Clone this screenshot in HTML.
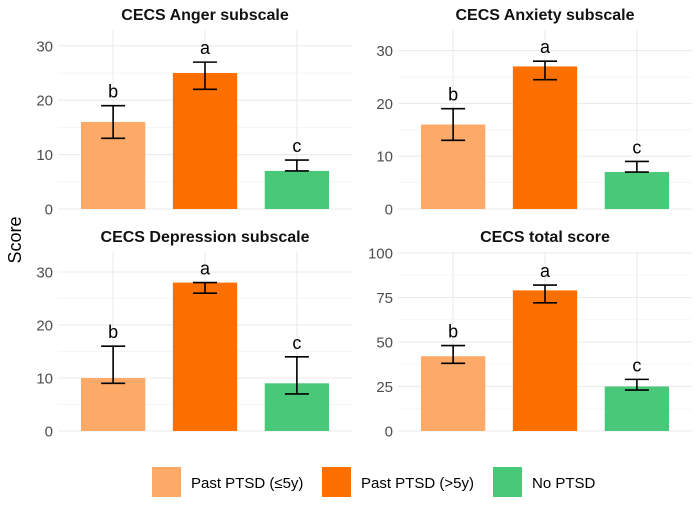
<!DOCTYPE html>
<html><head><meta charset="utf-8"><style>
body{margin:0;background:#fff;font-family:"Liberation Sans",Arial,sans-serif}
svg text{font-family:"Liberation Sans",Arial,sans-serif}
</style></head><body>
<svg id="chart" width="700" height="509" viewBox="0 0 700 509" xmlns="http://www.w3.org/2000/svg"></svg>
<script>
const groups = ["Past PTSD (≤5y)", "Past PTSD (>5y)", "No PTSD"];
const colors = ["#fdaa68", "#fd7000", "#48c878"];
const titles = ["CECS Anger subscale", "CECS Anxiety subscale", "CECS Depression subscale", "CECS total score"];
const angerMeans = [16, 25, 7];
const angerLow = [13, 22, 7];
const angerHigh = [19, 27, 9];
const anxietyMeans = [16, 27, 7];
const anxietyLow = [13, 24.5, 7];
const anxietyHigh = [19, 28, 9];
const depressionMeans = [10, 28, 9];
const depressionLow = [9, 26, 7];
const depressionHigh = [16, 28, 14];
const totalMeans = [42, 79, 25];
const totalLow = [38, 72, 23];
const totalHigh = [48, 82, 29];
const letters = ["b", "a", "c"];
const ticksSmall = [0, 10, 20, 30];
const ticksTotal = [0, 25, 50, 75, 100];

const NS = "http://www.w3.org/2000/svg";
const svg = document.getElementById("chart");
function mk(tag, attrs, parent) {
  const e = document.createElementNS(NS, tag);
  for (const k in attrs) e.setAttribute(k, attrs[k]);
  (parent || svg).appendChild(e);
  return e;
}
const panels = [
  {x0:58, x1:352, yZero:209, ppu:5.44, top:30, ty:20, ticks:ticksSmall, m:angerMeans, lo:angerLow, hi:angerHigh, minorStep:5},
  {x0:398, x1:692, yZero:209, ppu:5.28, top:30, ty:20, ticks:ticksSmall, m:anxietyMeans, lo:anxietyLow, hi:anxietyHigh, minorStep:5},
  {x0:58, x1:352, yZero:431, ppu:5.30, top:252, ty:242, ticks:ticksSmall, m:depressionMeans, lo:depressionLow, hi:depressionHigh, minorStep:5},
  {x0:398, x1:692, yZero:431, ppu:1.78, top:252, ty:242, ticks:ticksTotal, m:totalMeans, lo:totalLow, hi:totalHigh, minorStep:12.5}
];
panels.forEach((p, pi) => {
  const g = mk("g", {});
  
  
  const y = v => p.yZero - v * p.ppu;
  const step = (p.x1 - p.x0) / 3.2;
  const xc = i => p.x0 + step * (0.6 + i);
  for (let v = p.minorStep; v < (p.yZero - p.top) / p.ppu; v += p.minorStep * 2) {
    mk("line", {x1:p.x0, x2:p.x1, y1:y(v), y2:y(v), stroke:"#f3f3f3", "stroke-width":0.8}, g);
  }
  p.ticks.forEach(t => {
    const l = mk("line", {x1:p.x0, x2:p.x1, y1:y(t), y2:y(t), stroke:"#ebebeb", "stroke-width":1.1}, g);
    
    
    const tx = mk("text", {x:p.x0 - 5, y:y(t) + 5.5, "text-anchor":"end", "font-size":15, fill:"#4d4d4d"}, g);
    tx.textContent = t;
    
    
  });
  for (let i = 0; i < 3; i++) {
    mk("line", {x1:xc(i), x2:xc(i), y1:p.top, y2:p.yZero, stroke:"#ebebeb", "stroke-width":1.1}, g);
  }
  const bw = step * 0.7;
  for (let i = 0; i < 3; i++) {
    const r = mk("rect", {x:xc(i) - bw/2, y:y(p.m[i]), width:bw, height:p.yZero - y(p.m[i]), fill:colors[i]}, g);
    
    
    const eb = mk("path", {d:`M${xc(i)-12},${y(p.hi[i])}H${xc(i)+12}M${xc(i)},${y(p.hi[i])}V${y(p.lo[i])}M${xc(i)-12},${y(p.lo[i])}H${xc(i)+12}`, stroke:"#000", "stroke-width":1.6, fill:"none"}, g);
    
    
    const lt = mk("text", {x:xc(i), y:y(p.hi[i]) - 8, "text-anchor":"middle", "font-size":18, fill:"#000"}, g);
    lt.textContent = letters[i];
    
    
  }
  const tt = mk("text", {x:(p.x0 + p.x1)/2, y:p.ty, "text-anchor":"middle", "font-size":16, "font-weight":"bold", fill:"#111"}, g);
  tt.textContent = titles[pi];
  
  
});
const yl = mk("text", {x:0, y:0, transform:"translate(21,240) rotate(-90)", "text-anchor":"middle", "font-size":18, fill:"#000"});
yl.textContent = "Score";


const keyX = [152, 322, 493];
groups.forEach((gname, i) => {
  const r = mk("rect", {x:keyX[i], y:467, width:29, height:30, fill:colors[i]});
  
  
  const t = mk("text", {x:keyX[i] + 39, y:488, "font-size":15, fill:"#000"});
  t.textContent = gname;
  
  
});
</script>
</body></html>
